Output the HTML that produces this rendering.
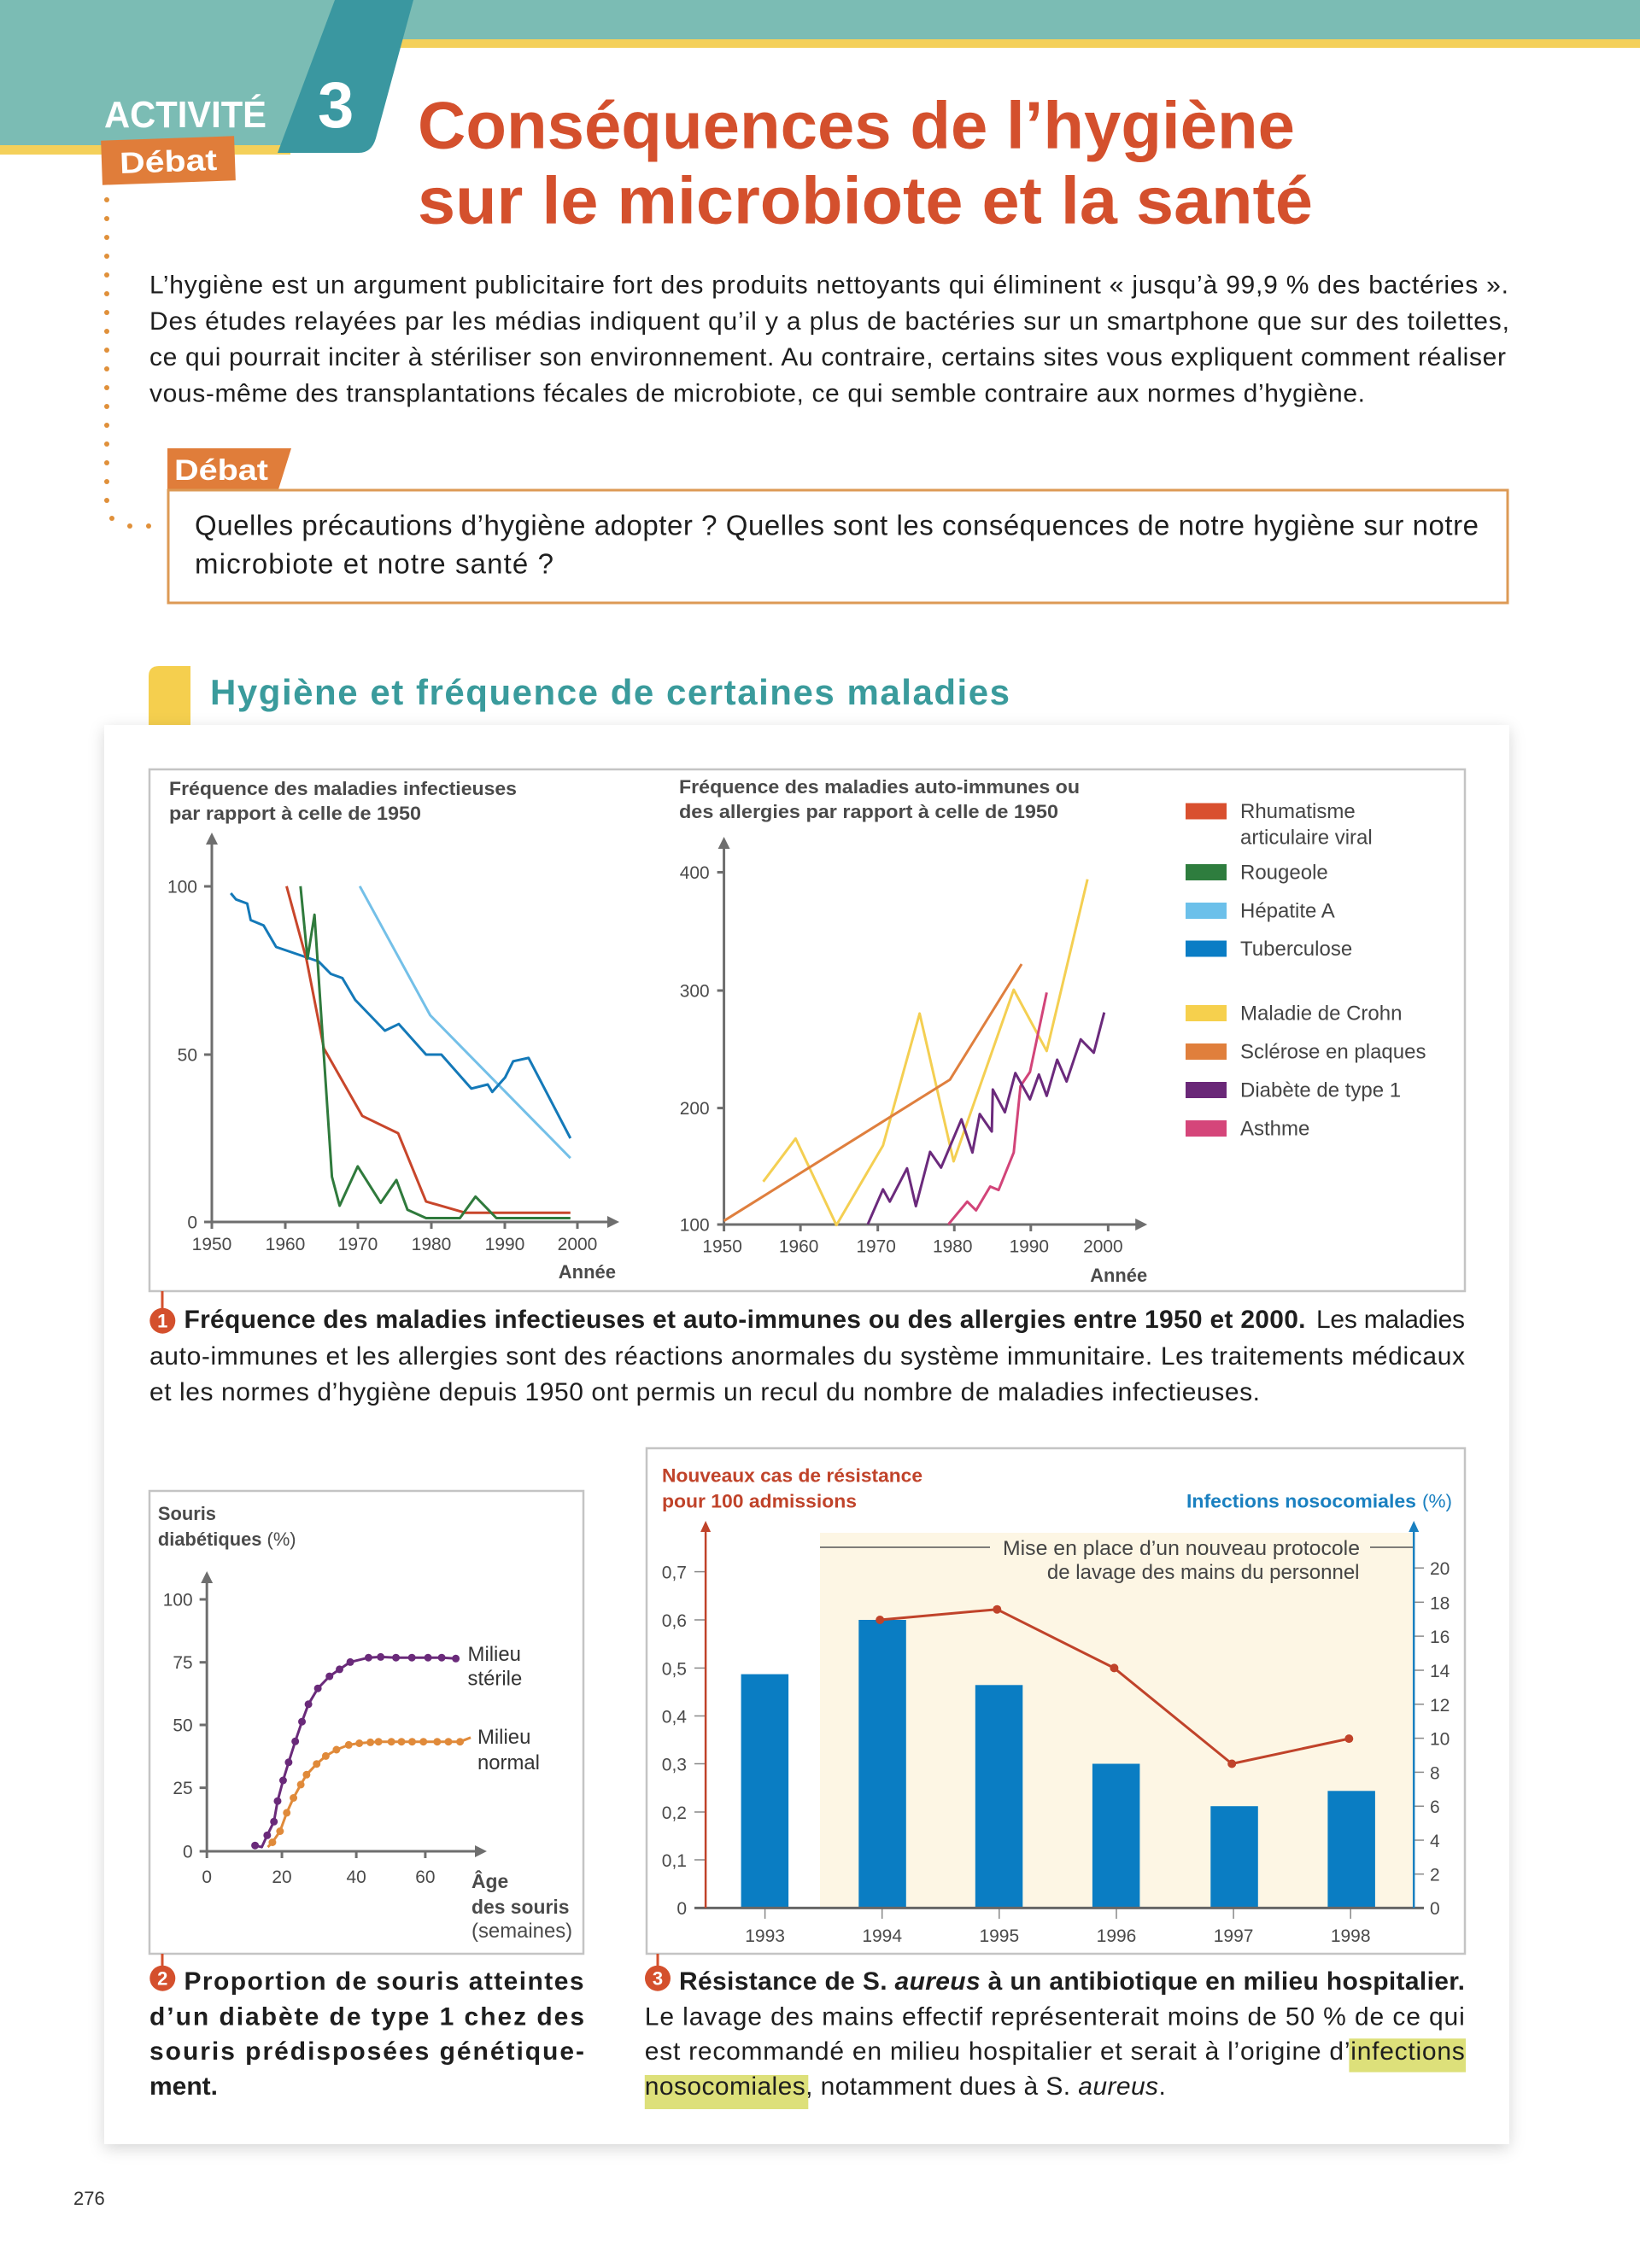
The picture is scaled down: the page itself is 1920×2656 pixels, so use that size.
<!DOCTYPE html>
<html><head><meta charset="utf-8"><style>
html,body{margin:0;padding:0;background:#fff;}
svg{display:block;}
text{font-family:"Liberation Sans",sans-serif;}
</style></head><body>
<svg width="1920" height="2656" viewBox="0 0 1920 2656" xmlns="http://www.w3.org/2000/svg">
<defs>
<filter id="sh" x="-5%" y="-5%" width="110%" height="110%"><feDropShadow dx="0" dy="5" stdDeviation="9" flood-color="#000" flood-opacity="0.16"/></filter>
</defs>
<rect width="1920" height="2656" fill="#fff"/>
<!-- header -->
<rect x="0" y="0" width="1920" height="46" fill="#7bbcb4"/>
<rect x="0" y="0" width="400" height="170" fill="#7bbcb4"/>
<rect x="0" y="170" width="340" height="11" fill="#f4d05a"/>
<rect x="466" y="46" width="1454" height="10" fill="#f4d05a"/>
<path d="M392,0 L484,0 L440,162 Q435,179 420,179 L325,179 Z" fill="#3a97a0"/>
<text x="122" y="149" font-size="44" font-weight="bold" fill="#fff" textLength="190" lengthAdjust="spacingAndGlyphs">ACTIVITÉ</text>
<text x="372" y="149" font-size="76" font-weight="bold" fill="#fff">3</text>
<g transform="rotate(-2 197 188)">
<rect x="119" y="162" width="156" height="52" fill="#e07d3a"/>
<text x="140" y="201" font-size="35" font-weight="bold" fill="#fff" textLength="114" lengthAdjust="spacingAndGlyphs">Débat</text>
</g>
<text x="489" y="173.6" font-size="78" font-weight="bold" fill="#d4502d" textLength="1027" lengthAdjust="spacingAndGlyphs">Conséquences de l’hygiène</text>
<text x="489" y="261.7" font-size="78" font-weight="bold" fill="#d4502d" textLength="1048" lengthAdjust="spacingAndGlyphs">sur le microbiote et la santé</text>
<!-- dotted line -->
<g fill="#e0903a">
<circle cx="125" cy="234" r="3"/><circle cx="125" cy="256" r="3"/><circle cx="125" cy="278" r="3"/><circle cx="125" cy="300" r="3"/><circle cx="125" cy="322" r="3"/><circle cx="125" cy="344" r="3"/><circle cx="125" cy="366" r="3"/><circle cx="125" cy="388" r="3"/><circle cx="125" cy="410" r="3"/><circle cx="125" cy="432" r="3"/><circle cx="125" cy="454" r="3"/><circle cx="125" cy="476" r="3"/><circle cx="125" cy="498" r="3"/><circle cx="125" cy="520" r="3"/><circle cx="125" cy="542" r="3"/><circle cx="125" cy="564" r="3"/><circle cx="125" cy="586" r="3"/><circle cx="131" cy="607" r="3"/><circle cx="152" cy="616" r="3"/><circle cx="174" cy="616" r="3"/>
</g>
<!-- intro -->
<g font-size="30" fill="#1e1e1e">
<text x="175" y="343.4" textLength="1591" lengthAdjust="spacing">L’hygiène est un argument publicitaire fort des produits nettoyants qui éliminent « jusqu’à 99,9 % des bactéries ».</text>
<text x="175" y="385.8" textLength="1592" lengthAdjust="spacing">Des études relayées par les médias indiquent qu’il y a plus de bactéries sur un smartphone que sur des toilettes,</text>
<text x="175" y="428.2" textLength="1588" lengthAdjust="spacing">ce qui pourrait inciter à stériliser son environnement. Au contraire, certains sites vous expliquent comment réaliser</text>
<text x="175" y="470.6" textLength="1423" lengthAdjust="spacing">vous-même des transplantations fécales de microbiote, ce qui semble contraire aux normes d’hygiène.</text>
</g>
<!-- debat box -->
<path d="M196,525 L341,525 L326,573 L196,573 Z" fill="#e07d3a"/>
<text x="204" y="562" font-size="34" font-weight="bold" fill="#fff" textLength="110" lengthAdjust="spacingAndGlyphs">Débat</text>
<rect x="197" y="574" width="1568" height="132" fill="none" stroke="#dd9a55" stroke-width="3"/>
<text x="228" y="626.7" font-size="33" fill="#1e1e1e" textLength="1503" lengthAdjust="spacing">Quelles précautions d’hygiène adopter ? Quelles sont les conséquences de notre hygiène sur notre</text>
<text x="228" y="671.7" font-size="33" fill="#1e1e1e" textLength="420" lengthAdjust="spacing">microbiote et notre santé ?</text>
<!-- section heading -->
<path d="M174,860 L174,792 Q174,780 186,780 L223,780 L223,860 Z" fill="#f5cf4e"/>
<text x="246" y="825" font-size="42" font-weight="bold" fill="#3a9b9c" textLength="936" lengthAdjust="spacing">Hygiène et fréquence de certaines maladies</text>
<!-- card -->
<rect x="122" y="849" width="1645" height="1662" fill="#fff" filter="url(#sh)"/>

<!-- CHART 1 frame -->
<rect x="175" y="901" width="1540" height="611" fill="none" stroke="#c4c4c4" stroke-width="2.5"/>
<g font-size="22" font-weight="bold" fill="#4a4a4a">
<text x="198" y="931" textLength="407" lengthAdjust="spacingAndGlyphs">Fréquence des maladies infectieuses</text>
<text x="198" y="960" textLength="295" lengthAdjust="spacingAndGlyphs">par rapport à celle de 1950</text>
<text x="795" y="929" textLength="469" lengthAdjust="spacingAndGlyphs">Fréquence des maladies auto-immunes ou</text>
<text x="795" y="958" textLength="444" lengthAdjust="spacingAndGlyphs">des allergies par rapport à celle de 1950</text>
</g>
<!-- left axes -->
<g stroke="#6e6e6e" stroke-width="3" fill="none">
<line x1="248" y1="1431" x2="248" y2="985"/>
<line x1="248" y1="1431" x2="714" y2="1431"/>
<line x1="239" y1="1038" x2="248" y2="1038"/><line x1="239" y1="1235" x2="248" y2="1235"/><line x1="239" y1="1431" x2="248" y2="1431"/>
<line x1="334" y1="1431" x2="334" y2="1439"/><line x1="419" y1="1431" x2="419" y2="1439"/><line x1="505" y1="1431" x2="505" y2="1439"/><line x1="591" y1="1431" x2="591" y2="1439"/><line x1="676" y1="1431" x2="676" y2="1439"/><line x1="248" y1="1431" x2="248" y2="1439"/>
</g>
<g fill="#6e6e6e">
<polygon points="248,975 241,989 255,989"/>
<polygon points="725,1431 711,1424 711,1438"/>
</g>
<g font-size="21" fill="#4a4a4a">
<text x="231" y="1045.5" text-anchor="end">100</text>
<text x="231" y="1242.5" text-anchor="end">50</text>
<text x="231" y="1438.5" text-anchor="end">0</text>
<text x="248" y="1464" text-anchor="middle">1950</text>
<text x="334" y="1464" text-anchor="middle">1960</text>
<text x="419" y="1464" text-anchor="middle">1970</text>
<text x="505" y="1464" text-anchor="middle">1980</text>
<text x="591" y="1464" text-anchor="middle">1990</text>
<text x="676" y="1464" text-anchor="middle">2000</text>
</g>
<text x="721" y="1497" font-size="22" font-weight="bold" fill="#4a4a4a" text-anchor="end">Année</text>
<g fill="none" stroke-width="3" stroke-linejoin="round">
<polyline stroke="#74c0e8" points="421.2,1037.8 503.7,1189 667.8,1356.2"/>
<polyline stroke="#1479b8" points="270.2,1046 276.3,1053.3 289.4,1058.1 293.5,1077.5 308.6,1083.8 323.3,1109 373.1,1126 387.3,1140.5 400.8,1145.4 415.9,1171 450.6,1207 466.9,1199.2 498.8,1235 516.7,1235 551.8,1274.8 571,1270 576.3,1278.7 591.4,1261.7 600.8,1242.8 618.8,1238.9 667.8,1333"/>
<polyline stroke="#c8462b" points="335.5,1037.8 358.8,1123.6 379.2,1227.8 424.1,1306.8 466.1,1327.1 498.8,1407.1 544.5,1420.2 667.8,1420.2"/>
<polyline stroke="#2f7a3c" points="351.8,1037.8 360,1122.6 368.2,1071.2 388.6,1378 397.6,1412 418.8,1365.9 445.7,1408.6 464.1,1381.9 477.1,1416.8 498.8,1426.5 538.4,1426.5 556.7,1401.3 581.2,1426.5 667.8,1426.5"/>
</g>
<!-- right chart (slightly compressed horizontally) -->
<g transform="matrix(0.9951,0,0,1,3.72,0)">
<g stroke="#6e6e6e" stroke-width="3" fill="none">
<line x1="848" y1="1434" x2="848" y2="990"/>
<line x1="848" y1="1434" x2="1336" y2="1434"/>
<line x1="840" y1="1021.5" x2="848" y2="1021.5"/><line x1="840" y1="1160" x2="848" y2="1160"/><line x1="840" y1="1297.6" x2="848" y2="1297.6"/><line x1="840" y1="1434" x2="848" y2="1434"/>
<line x1="848" y1="1434" x2="848" y2="1442"/><line x1="938" y1="1434" x2="938" y2="1442"/><line x1="1029" y1="1434" x2="1029" y2="1442"/><line x1="1119" y1="1434" x2="1119" y2="1442"/><line x1="1209" y1="1434" x2="1209" y2="1442"/><line x1="1300" y1="1434" x2="1300" y2="1442"/>
</g>
<g fill="#6e6e6e">
<polygon points="848,980 841,994 855,994"/>
<polygon points="1346,1434 1332,1427 1332,1441"/>
</g>
<g font-size="21" fill="#4a4a4a">
<text x="831" y="1029" text-anchor="end">400</text>
<text x="831" y="1167.5" text-anchor="end">300</text>
<text x="831" y="1305" text-anchor="end">200</text>
<text x="831" y="1441.5" text-anchor="end">100</text>
<text x="846" y="1466.5" text-anchor="middle">1950</text>
<text x="936" y="1466.5" text-anchor="middle">1960</text>
<text x="1027" y="1466.5" text-anchor="middle">1970</text>
<text x="1117" y="1466.5" text-anchor="middle">1980</text>
<text x="1207" y="1466.5" text-anchor="middle">1990</text>
<text x="1294" y="1466.5" text-anchor="middle">2000</text>
</g>
<text x="1346" y="1501" font-size="22" font-weight="bold" fill="#4a4a4a" text-anchor="end">Année</text>
<g fill="none" stroke-width="3" stroke-linejoin="round">
<polyline stroke="#f4cf52" points="894.2,1383.8 932.3,1333.3 980.3,1434.7 1035.1,1341.5 1078.2,1186.9 1118.2,1360 1188.9,1159 1227.7,1230.8 1275.7,1029.7"/>
<polyline stroke="#df7f3e" points="848,1429.7 1113.8,1264.4 1198.2,1129"/>
<polyline stroke="#d24479" points="1112,1433.8 1134.2,1407.2 1144.6,1417.4 1161.2,1389.5 1171.1,1393.6 1188.9,1349.7 1196.9,1271.8 1208,1255.4 1227.7,1162.3"/>
<polyline stroke="#6b2a7c" points="1017.2,1433.8 1035.1,1392.8 1043.1,1407.2 1063.4,1368.2 1073.8,1412.5 1090.5,1348.9 1103.4,1367.4 1127.4,1310.8 1140.3,1349.7 1148.9,1304.6 1163.1,1325.1 1164.3,1275.9 1178.5,1302.6 1190.8,1256.6 1208,1287.4 1218.5,1258.3 1227.7,1283.3 1240,1241 1251.1,1266.5 1267.7,1217.2 1283.1,1232.8 1295.4,1185.6"/>
</g>
</g>
<!-- legend -->
<rect x="1388" y="940.5" width="48" height="19" fill="#d9502f"/>
<rect x="1388" y="1012" width="48" height="19" fill="#2e7d3e"/>
<rect x="1388" y="1057" width="48" height="19" fill="#6cc0ea"/>
<rect x="1388" y="1101.5" width="48" height="19" fill="#0a7dc5"/>
<rect x="1388" y="1177" width="48" height="19" fill="#f6d04d"/>
<rect x="1388" y="1222" width="48" height="19" fill="#e07f3c"/>
<rect x="1388" y="1267" width="48" height="19" fill="#6a2878"/>
<rect x="1388" y="1312" width="48" height="19" fill="#d5467a"/>
<g font-size="24" fill="#444">
<text x="1452" y="958">Rhumatisme</text>
<text x="1452" y="988.5">articulaire viral</text>
<text x="1452" y="1029.5">Rougeole</text>
<text x="1452" y="1074.5">Hépatite A</text>
<text x="1452" y="1119">Tuberculose</text>
<text x="1452" y="1194.5">Maladie de Crohn</text>
<text x="1452" y="1239.5">Sclérose en plaques</text>
<text x="1452" y="1284.5">Diabète de type 1</text>
<text x="1452" y="1329.5">Asthme</text>
</g>
<!-- caption 1 -->
<line x1="190" y1="1512" x2="190" y2="1534" stroke="#d4502d" stroke-width="3"/>
<circle cx="190.3" cy="1546.7" r="15" fill="#d4502d"/>
<text x="190.3" y="1554.5" font-size="22" font-weight="bold" fill="#fff" text-anchor="middle">1</text>
<text x="215.5" y="1555" font-size="30" font-weight="bold" fill="#1e1e1e" textLength="1313" lengthAdjust="spacing">Fréquence des maladies infectieuses et auto-immunes ou des allergies entre 1950 et 2000.</text>
<text x="1541" y="1555" font-size="30" fill="#1e1e1e" textLength="174" lengthAdjust="spacing">Les maladies</text>
<text x="175" y="1598" font-size="30" fill="#1e1e1e" textLength="1540" lengthAdjust="spacing">auto-immunes et les allergies sont des réactions anormales du système immunitaire. Les traitements médicaux</text>
<text x="175" y="1640" font-size="30" fill="#1e1e1e" textLength="1300" lengthAdjust="spacing">et les normes d’hygiène depuis 1950 ont permis un recul du nombre de maladies infectieuses.</text>

<!-- CHART 2 mouse -->
<rect x="175" y="1746" width="508" height="542" fill="none" stroke="#c4c4c4" stroke-width="2.5"/>
<g transform="matrix(0.995,0,0,1,0.8,0)">
<text x="185" y="1780" font-size="22" font-weight="bold" fill="#4a4a4a">Souris</text>
<text x="185" y="1810" font-size="22" fill="#4a4a4a"><tspan font-weight="bold">diabétiques</tspan> (%)</text>
<g stroke="#6e6e6e" stroke-width="3" fill="none">
<line x1="242.6" y1="2168" x2="242.6" y2="1850"/>
<line x1="242.6" y1="2168" x2="562" y2="2168"/>
<line x1="234" y1="1873" x2="242.6" y2="1873"/><line x1="234" y1="1946.7" x2="242.6" y2="1946.7"/><line x1="234" y1="2020" x2="242.6" y2="2020"/><line x1="234" y1="2093.6" x2="242.6" y2="2093.6"/><line x1="234" y1="2168" x2="242.6" y2="2168"/>
<line x1="242.6" y1="2168" x2="242.6" y2="2176"/><line x1="330.9" y1="2168" x2="330.9" y2="2176"/><line x1="418.4" y1="2168" x2="418.4" y2="2176"/><line x1="499.6" y1="2168" x2="499.6" y2="2176"/>
</g>
<g fill="#6e6e6e">
<polygon points="242.6,1840 235.6,1854 249.6,1854"/>
<polygon points="572,2168 558,2161 558,2175"/>
</g>
<g font-size="21" fill="#4a4a4a">
<text x="226" y="1880.5" text-anchor="end">100</text>
<text x="226" y="1954" text-anchor="end">75</text>
<text x="226" y="2027.5" text-anchor="end">50</text>
<text x="226" y="2101" text-anchor="end">25</text>
<text x="226" y="2175.5" text-anchor="end">0</text>
<text x="242.6" y="2205" text-anchor="middle">0</text>
<text x="330.9" y="2205" text-anchor="middle">20</text>
<text x="418.4" y="2205" text-anchor="middle">40</text>
<text x="499.6" y="2205" text-anchor="middle">60</text>
</g>
<polyline fill="none" stroke="#6a2a7a" stroke-width="3" stroke-linejoin="round" points="299.3,2161.2 307.2,2163.1 313.6,2149.3 321.5,2133.3 325.8,2109.2 332.3,2085 338.8,2063.8 346.6,2039.3 354.5,2016.2 362.1,1995.8 373.2,1977.2 386.9,1963.1 398.7,1954.9 411.3,1946.4 432.8,1941.2 447.1,1940.4 465.1,1941.2 483.8,1941.2 502.8,1941.2 518.9,1941.2 535.5,1942.3"/>
<g fill="#6a2a7a">
<circle cx="299.3" cy="2161.2" r="4.5"/><circle cx="313.6" cy="2149.3" r="4.5"/><circle cx="321.5" cy="2133.3" r="4.5"/><circle cx="325.8" cy="2109.2" r="4.5"/><circle cx="332.3" cy="2085" r="4.5"/><circle cx="338.8" cy="2063.8" r="4.5"/><circle cx="346.6" cy="2039.3" r="4.5"/><circle cx="354.5" cy="2016.2" r="4.5"/><circle cx="362.1" cy="1995.8" r="4.5"/><circle cx="373.2" cy="1977.2" r="4.5"/><circle cx="386.9" cy="1963.1" r="4.5"/><circle cx="398.7" cy="1954.9" r="4.5"/><circle cx="411.3" cy="1946.4" r="4.5"/><circle cx="432.8" cy="1941.2" r="4.5"/><circle cx="447.1" cy="1940.4" r="4.5"/><circle cx="465.1" cy="1941.2" r="4.5"/><circle cx="483.8" cy="1941.2" r="4.5"/><circle cx="502.8" cy="1941.2" r="4.5"/><circle cx="518.9" cy="1941.2" r="4.5"/><circle cx="535.5" cy="1942.3" r="4.5"/>
</g>
<polyline fill="none" stroke="#e08a3a" stroke-width="3" stroke-linejoin="round" points="314.3,2163.1 319.7,2157.5 328.7,2144.5 336.6,2122.9 344.5,2105.5 353.1,2089.9 359.9,2078.3 371.8,2065.7 382.5,2056.4 395.1,2049 409.5,2043.4 422,2041.5 435,2040.4 444.6,2039.7 459.7,2039.7 471.6,2039.7 484.1,2039.7 497.4,2039.7 513.6,2039.7 526.8,2039.7 540.5,2039.7 553,2034.8"/>
<g fill="#e08a3a">
<circle cx="319.7" cy="2157.5" r="4.5"/><circle cx="328.7" cy="2144.5" r="4.5"/><circle cx="336.6" cy="2122.9" r="4.5"/><circle cx="344.5" cy="2105.5" r="4.5"/><circle cx="353.1" cy="2089.9" r="4.5"/><circle cx="359.9" cy="2078.3" r="4.5"/><circle cx="371.8" cy="2065.7" r="4.5"/><circle cx="382.5" cy="2056.4" r="4.5"/><circle cx="395.1" cy="2049" r="4.5"/><circle cx="409.5" cy="2043.4" r="4.5"/><circle cx="422" cy="2041.5" r="4.5"/><circle cx="435" cy="2040.4" r="4.5"/><circle cx="444.6" cy="2039.7" r="4.5"/><circle cx="459.7" cy="2039.7" r="4.5"/><circle cx="471.6" cy="2039.7" r="4.5"/><circle cx="484.1" cy="2039.7" r="4.5"/><circle cx="497.4" cy="2039.7" r="4.5"/><circle cx="513.6" cy="2039.7" r="4.5"/><circle cx="526.8" cy="2039.7" r="4.5"/><circle cx="540.5" cy="2039.7" r="4.5"/>
</g>
<g font-size="24" fill="#333">
<text x="549.5" y="1945">Milieu</text>
<text x="549.5" y="1973.5">stérile</text>
<text x="561" y="2042">Milieu</text>
<text x="561" y="2072">normal</text>
</g>
<text x="554" y="2211" font-size="23" font-weight="bold" fill="#4a4a4a">Âge</text>
<text x="554" y="2241" font-size="23" font-weight="bold" fill="#4a4a4a">des souris</text>
<text x="554" y="2269" font-size="24" fill="#4a4a4a">(semaines)</text>
</g>

<!-- caption 2 -->
<line x1="190" y1="2288" x2="190" y2="2304" stroke="#d4502d" stroke-width="3"/>
<circle cx="190.3" cy="2316.7" r="15" fill="#d4502d"/>
<text x="190.3" y="2324.5" font-size="22" font-weight="bold" fill="#fff" text-anchor="middle">2</text>
<g font-size="30" font-weight="bold" fill="#1e1e1e">
<text x="215.5" y="2330" textLength="468" lengthAdjust="spacing">Proportion de souris atteintes</text>
<text x="175" y="2371.5" textLength="509" lengthAdjust="spacing">d’un diabète de type 1 chez des</text>
<text x="175" y="2412" textLength="509" lengthAdjust="spacing">souris prédisposées génétique-</text>
<text x="175" y="2453">ment.</text>
</g>

<!-- CHART 3 bars -->
<rect x="757" y="1696" width="958" height="592" fill="none" stroke="#c4c4c4" stroke-width="2.5"/>
<rect x="960" y="1795" width="695" height="439" fill="#fdf6e4"/>
<text x="775" y="1735.6" font-size="22" font-weight="bold" fill="#c0432a" textLength="305" lengthAdjust="spacingAndGlyphs">Nouveaux cas de résistance</text>
<text x="775" y="1765.5" font-size="22" font-weight="bold" fill="#c0432a" textLength="228" lengthAdjust="spacingAndGlyphs">pour 100 admissions</text>
<text x="1389" y="1765.5" font-size="22" font-weight="bold" fill="#1a80c0" textLength="269" lengthAdjust="spacingAndGlyphs">Infections nosocomiales</text>
<text x="1665" y="1765.5" font-size="22" fill="#1a80c0" textLength="35" lengthAdjust="spacingAndGlyphs">(%)</text>
<!-- annotation -->
<line x1="960" y1="1812" x2="1159" y2="1812" stroke="#555" stroke-width="1.5"/>
<line x1="1604" y1="1812" x2="1655" y2="1812" stroke="#555" stroke-width="1.5"/>
<text x="1174" y="1821" font-size="24" fill="#444" textLength="418" lengthAdjust="spacingAndGlyphs">Mise en place d’un nouveau protocole</text>
<text x="1591.5" y="1849" font-size="24" fill="#444" text-anchor="end">de lavage des mains du personnel</text>
<!-- bars -->
<g fill="#0a7dc3">
<rect x="867.6" y="1960.6" width="55.5" height="273.8"/>
<rect x="1005.3" y="1897" width="55.5" height="337.4"/>
<rect x="1141.8" y="1973.3" width="55.5" height="261.1"/>
<rect x="1278.9" y="2065.5" width="55.5" height="168.9"/>
<rect x="1417.3" y="2115.2" width="55.5" height="119.2"/>
<rect x="1554.4" y="2097.3" width="55.5" height="137.1"/>
</g>
<!-- axes -->
<g stroke="#888" stroke-width="1.5">
<line x1="813" y1="2178" x2="826" y2="2178"/><line x1="813" y1="2122" x2="826" y2="2122"/><line x1="813" y1="2065.5" x2="826" y2="2065.5"/><line x1="813" y1="2009.5" x2="826" y2="2009.5"/><line x1="813" y1="1953.4" x2="826" y2="1953.4"/><line x1="813" y1="1897" x2="826" y2="1897"/><line x1="813" y1="1840.6" x2="826" y2="1840.6"/>
<line x1="1655" y1="2194.7" x2="1667" y2="2194.7"/><line x1="1655" y1="2155" x2="1667" y2="2155"/><line x1="1655" y1="2115.2" x2="1667" y2="2115.2"/><line x1="1655" y1="2075.4" x2="1667" y2="2075.4"/><line x1="1655" y1="2035.6" x2="1667" y2="2035.6"/><line x1="1655" y1="1995.8" x2="1667" y2="1995.8"/><line x1="1655" y1="1956" x2="1667" y2="1956"/><line x1="1655" y1="1916.1" x2="1667" y2="1916.1"/><line x1="1655" y1="1876.3" x2="1667" y2="1876.3"/><line x1="1655" y1="1836.2" x2="1667" y2="1836.2"/>
<line x1="895.6" y1="2234" x2="895.6" y2="2247"/><line x1="1032.7" y1="2234" x2="1032.7" y2="2247"/><line x1="1169.8" y1="2234" x2="1169.8" y2="2247"/><line x1="1307" y1="2234" x2="1307" y2="2247"/><line x1="1444.1" y1="2234" x2="1444.1" y2="2247"/><line x1="1581.2" y1="2234" x2="1581.2" y2="2247"/>
</g>
<line x1="813" y1="2234.4" x2="1667" y2="2234.4" stroke="#666" stroke-width="3"/>
<line x1="826.1" y1="2234.4" x2="826.1" y2="1792" stroke="#c0432a" stroke-width="2.5"/>
<polygon points="826.1,1781 820.1,1794 832.1,1794" fill="#c0432a"/>
<line x1="1655.2" y1="2234.4" x2="1655.2" y2="1792" stroke="#1a80c0" stroke-width="2.5"/>
<polygon points="1655.2,1781 1649.2,1794 1661.2,1794" fill="#1a80c0"/>
<g font-size="21" fill="#4a4a4a">
<text x="804" y="2242" text-anchor="end">0</text>
<text x="804" y="2186" text-anchor="end">0,1</text>
<text x="804" y="2130" text-anchor="end">0,2</text>
<text x="804" y="2073.5" text-anchor="end">0,3</text>
<text x="804" y="2017.5" text-anchor="end">0,4</text>
<text x="804" y="1961.4" text-anchor="end">0,5</text>
<text x="804" y="1905" text-anchor="end">0,6</text>
<text x="804" y="1848.6" text-anchor="end">0,7</text>
<text x="1674" y="2242">0</text>
<text x="1674" y="2202.7">2</text>
<text x="1674" y="2163">4</text>
<text x="1674" y="2123.2">6</text>
<text x="1674" y="2083.4">8</text>
<text x="1674" y="2043.6">10</text>
<text x="1674" y="2003.8">12</text>
<text x="1674" y="1964">14</text>
<text x="1674" y="1924.1">16</text>
<text x="1674" y="1884.3">18</text>
<text x="1674" y="1844.2">20</text>
<text x="895.6" y="2274" text-anchor="middle">1993</text>
<text x="1032.7" y="2274" text-anchor="middle">1994</text>
<text x="1169.8" y="2274" text-anchor="middle">1995</text>
<text x="1307" y="2274" text-anchor="middle">1996</text>
<text x="1444.1" y="2274" text-anchor="middle">1997</text>
<text x="1581.2" y="2274" text-anchor="middle">1998</text>
</g>
<polyline fill="none" stroke="#c0432a" stroke-width="3" stroke-linejoin="round" points="1030.2,1897 1167.3,1884.7 1304.4,1953.4 1442.2,2065.5 1579.3,2036.1"/>
<g fill="#c0432a">
<circle cx="1030.2" cy="1897" r="5"/><circle cx="1167.3" cy="1884.7" r="5"/><circle cx="1304.4" cy="1953.4" r="5"/><circle cx="1442.2" cy="2065.5" r="5"/><circle cx="1579.3" cy="2036.1" r="5"/>
</g>

<!-- caption 3 -->
<line x1="770" y1="2288" x2="770" y2="2304" stroke="#d4502d" stroke-width="3"/>
<circle cx="770" cy="2316.7" r="15" fill="#d4502d"/>
<text x="770" y="2324.5" font-size="22" font-weight="bold" fill="#fff" text-anchor="middle">3</text>
<rect x="1579.4" y="2387.3" width="136.6" height="39.4" fill="#dde07a"/>
<rect x="754.8" y="2430" width="191.5" height="40" fill="#dde07a"/>
<text x="795" y="2330" font-size="30" font-weight="bold" fill="#1e1e1e" textLength="920" lengthAdjust="spacing">Résistance de S. <tspan font-style="italic">aureus</tspan> à un antibiotique en milieu hospitalier.</text>
<g font-size="30" fill="#1e1e1e">
<text x="754.8" y="2371.5" textLength="960" lengthAdjust="spacing">Le lavage des mains effectif représenterait moins de 50 % de ce qui</text>
<text x="754.8" y="2412" textLength="960" lengthAdjust="spacing">est recommandé en milieu hospitalier et serait à l’origine d’infections</text>
<text x="754.8" y="2453" textLength="610" lengthAdjust="spacing">nosocomiales, notamment dues à S. <tspan font-style="italic">aureus</tspan>.</text>
</g>
<text x="86" y="2582" font-size="22" fill="#333">276</text>
</svg>
</body></html>
